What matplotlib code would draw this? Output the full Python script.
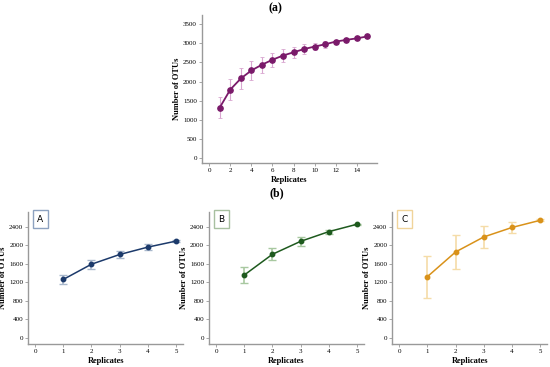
import matplotlib.pyplot as plt
import numpy as np

plt.rcParams['font.family'] = ['Liberation Serif', 'DejaVu Serif']

# (a) all replicates
reps_all = np.arange(1, 16)
otu_all = [1320, 1790, 2080, 2290, 2440, 2570, 2680, 2765, 2850, 2915, 2975, 3045, 3090, 3130, 3180]
err_all = [285, 285, 265, 250, 215, 180, 160, 140, 120, 100, 85, 50, 40, 35, 25]

# (b) sub groups
reps_sub = np.arange(1, 6)
otu_A = [1265, 1595, 1805, 1965, 2095]
err_A = [105, 95, 80, 58, 15]
otu_B = [1360, 1810, 2090, 2300, 2460]
err_B = [180, 130, 95, 45, 15]
otu_C = [1325, 1860, 2185, 2390, 2545]
err_C = [455, 370, 245, 110, 20]


def style_axes(ax):
    for s in ['top', 'right']:
        ax.spines[s].set_visible(False)
    for s in ['left', 'bottom']:
        ax.spines[s].set_color('#999999')
        ax.spines[s].set_linewidth(1.0)
    ax.tick_params(labelsize=5, length=2, width=0.6, color='#999999', pad=1.5)
    ax.set_xlabel('Replicates', fontsize=6, fontweight='bold', labelpad=2)
    ax.set_ylabel('Number of OTUs', fontsize=6, fontweight='bold', labelpad=1.5)


fig = plt.figure(figsize=(5.5, 3.67), dpi=100)

# top panel
ax = fig.add_axes([0.367, 0.556, 0.318, 0.403])
ax.errorbar(reps_all, otu_all, yerr=err_all, color='#7a1a6a', ecolor='#d9a6d0',
            elinewidth=0.8, capsize=1.5, capthick=0.6, marker='o', markersize=3.8, linewidth=1.3)
ax.set_xlim(-0.7, 15.9)
ax.set_ylim(-130, 3740)
ax.set_xticks(np.arange(0, 15, 2))
ax.set_yticks(np.arange(0, 3501, 500))
style_axes(ax)
fig.text(0.5, 0.978, '(a)', ha='center', va='center', fontsize=8.5, fontweight='bold')
fig.text(0.503, 0.473, '(b)', ha='center', va='center', fontsize=8.5, fontweight='bold')

panels = [
    ('A', 0.051, otu_A, err_A, '#1c3a6b', '#a9b8cc', '#8da2c0'),
    ('B', 0.380, otu_B, err_B, '#1e5a1e', '#a8c8a0', '#a8c0a0'),
    ('C', 0.713, otu_C, err_C, '#d9921a', '#f5dca8', '#f0d49a'),
]
for name, left, vals, errs, col, ecol, boxcol in panels:
    ax = fig.add_axes([left, 0.063, 0.282, 0.36])
    ax.errorbar(reps_sub, vals, yerr=errs, color=col, ecolor=ecol,
                elinewidth=1.2, capsize=3, capthick=1.0, marker='o', markersize=3.2, linewidth=1.1)
    ax.set_xlim(-0.25, 5.25)
    ax.set_ylim(-130, 2730)
    ax.set_xticks(range(0, 6))
    ax.set_yticks(np.arange(0, 2401, 400))
    style_axes(ax)
    ax.text(0.08, 0.945, name, transform=ax.transAxes, fontsize=6.5, family='DejaVu Sans',
            ha='center', va='center',
            bbox=dict(boxstyle='square,pad=0.5', facecolor='white', edgecolor=boxcol, linewidth=1.0))

fig.savefig('out.png', dpi=100)
